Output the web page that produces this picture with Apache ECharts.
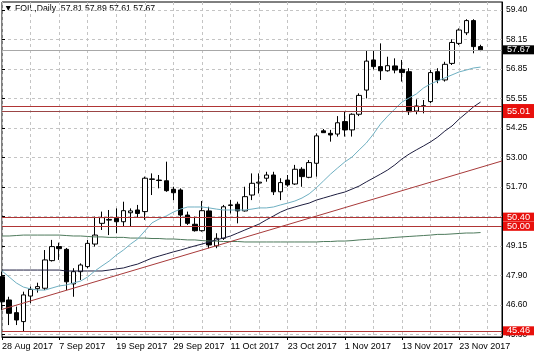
<!DOCTYPE html>
<html>
<head>
<meta charset="utf-8">
<script src="https://cdn.jsdelivr.net/npm/echarts@6.0.0/dist/echarts.min.js"></script>
<style>
html,body{margin:0;padding:0;background:#fff;}
#chart{width:536px;height:357px;}
</style>
</head>
<body>
<div id="chart"></div>
<script>
// ---- data ----
const symbolTitle = 'FOIL,Daily';
const dates = [
  '28 Aug 2017','29 Aug 2017','30 Aug 2017','31 Aug 2017','1 Sep 2017',
  '4 Sep 2017','5 Sep 2017','6 Sep 2017','7 Sep 2017','8 Sep 2017',
  '11 Sep 2017','12 Sep 2017','13 Sep 2017','14 Sep 2017','15 Sep 2017',
  '18 Sep 2017','19 Sep 2017','20 Sep 2017','21 Sep 2017','22 Sep 2017',
  '25 Sep 2017','26 Sep 2017','27 Sep 2017','28 Sep 2017','29 Sep 2017',
  '2 Oct 2017','3 Oct 2017','4 Oct 2017','5 Oct 2017','6 Oct 2017',
  '9 Oct 2017','10 Oct 2017','11 Oct 2017','12 Oct 2017','13 Oct 2017',
  '16 Oct 2017','17 Oct 2017','18 Oct 2017','19 Oct 2017','20 Oct 2017',
  '23 Oct 2017','24 Oct 2017','25 Oct 2017','26 Oct 2017','27 Oct 2017',
  '29 Oct 2017','30 Oct 2017','31 Oct 2017','1 Nov 2017','2 Nov 2017',
  '3 Nov 2017','6 Nov 2017','7 Nov 2017','8 Nov 2017','9 Nov 2017',
  '10 Nov 2017','13 Nov 2017','14 Nov 2017','15 Nov 2017','16 Nov 2017',
  '17 Nov 2017','20 Nov 2017','21 Nov 2017','22 Nov 2017','23 Nov 2017',
  '24 Nov 2017','27 Nov 2017','28 Nov 2017',
  '29 Nov 2017','30 Nov 2017','1 Dec 2017'
];
const labelEvery = 8;
const opens = [47.81,46.80,46.25,45.86,46.97,47.29,47.31,48.51,49.12,49.00,
  47.50,48.03,48.25,49.23,50.13,50.27,50.35,50.20,50.59,50.71,
  50.64,52.04,52.01,51.98,51.61,51.58,50.49,50.09,49.81,50.67,
  49.15,49.48,50.93,50.96,50.67,51.36,51.88,52.09,52.23,51.50,
  52.01,51.84,52.48,52.13,52.74,54.15,54.04,54.01,54.55,54.19,
  54.87,55.92,57.23,56.94,56.76,56.97,56.82,56.72,55.01,55.22,
  55.42,56.72,56.36,57.08,57.95,58.41,58.94,57.81];
const highs = [48.03,46.94,46.51,47.16,47.38,47.55,48.97,49.41,49.29,49.06,
  48.18,48.39,49.41,50.42,50.64,50.71,50.78,51.07,50.78,50.93,
  52.16,52.30,52.23,52.81,51.72,51.65,50.64,50.42,51.10,50.85,
  49.70,50.93,51.15,51.07,51.72,52.30,52.30,52.37,52.37,52.09,
  52.23,52.67,52.57,52.88,54.04,54.23,54.19,54.79,54.98,54.91,
  55.78,57.66,57.66,57.95,57.37,57.30,57.23,56.87,55.52,55.49,
  56.79,56.87,57.15,58.13,58.60,59.00,59.00,57.89];
const lows = [46.37,45.71,45.71,45.45,46.66,47.12,47.23,48.47,48.54,47.23,
  46.94,47.67,48.18,49.12,49.84,49.62,49.70,49.98,50.00,50.38,
  50.28,51.36,51.65,51.50,51.14,49.98,50.06,49.77,49.77,49.05,
  49.05,49.41,50.56,50.13,50.64,51.14,51.43,51.94,51.36,51.14,
  51.72,51.80,51.72,52.09,52.16,54.06,53.68,53.90,53.90,53.90,
  54.79,55.56,56.82,56.36,56.72,56.65,56.29,54.84,54.87,54.91,
  55.35,56.22,56.29,57.01,57.88,58.31,57.52,57.61];
const closes = [46.72,46.22,45.93,47.02,47.26,47.38,48.54,49.12,49.03,47.59,
  48.03,48.32,49.26,49.62,50.38,50.30,50.20,50.68,50.67,50.56,
  52.09,52.06,51.99,51.55,51.46,50.49,50.13,49.81,50.68,49.19,
  49.48,50.85,50.91,50.67,51.29,51.87,51.92,52.23,51.50,51.90,
  51.80,52.48,52.16,52.77,53.93,54.07,53.97,54.50,54.19,54.87,
  55.69,57.18,56.94,56.76,56.98,56.79,56.68,54.98,55.23,55.24,
  56.68,56.36,57.04,57.99,58.53,58.94,57.81,57.67];
const maFast = [48.06,47.80,47.54,47.36,47.28,47.23,47.23,47.32,47.41,47.45,
  47.54,47.62,47.80,48.06,48.28,48.49,48.75,48.97,49.23,49.45,
  49.80,50.15,50.32,50.45,50.62,50.75,50.84,50.84,50.84,50.80,
  50.75,50.71,50.71,50.71,50.71,50.75,50.80,50.80,50.84,50.93,
  51.01,51.10,51.23,51.41,51.67,51.97,52.27,52.54,52.80,53.01,
  53.32,53.62,54.01,54.45,54.79,55.10,55.40,55.58,55.75,56.01,
  56.19,56.32,56.45,56.58,56.71,56.79,56.88,56.92];
const maMid = [48.10,48.10,48.10,48.10,48.10,48.10,48.10,48.10,48.10,48.06,
  48.06,48.06,48.06,48.06,48.06,48.10,48.15,48.19,48.28,48.36,
  48.49,48.62,48.71,48.80,48.89,48.97,49.06,49.15,49.23,49.32,
  49.41,49.49,49.58,49.71,49.84,49.97,50.10,50.28,50.45,50.62,
  50.75,50.84,50.93,51.01,51.14,51.23,51.32,51.41,51.49,51.62,
  51.75,51.93,52.10,52.27,52.45,52.67,52.93,53.14,53.32,53.49,
  53.67,53.88,54.14,54.36,54.66,54.92,55.19,55.40];
const maSlow = [49.58,49.58,49.60,49.62,49.62,49.62,49.62,49.62,49.62,49.60,
  49.58,49.58,49.56,49.54,49.54,49.52,49.52,49.52,49.49,49.49,
  49.49,49.47,49.47,49.45,49.45,49.43,49.41,49.41,49.38,49.36,
  49.36,49.34,49.34,49.34,49.32,49.32,49.32,49.32,49.32,49.32,
  49.32,49.32,49.32,49.32,49.32,49.34,49.34,49.36,49.36,49.38,
  49.41,49.43,49.45,49.47,49.49,49.52,49.54,49.56,49.58,49.60,
  49.62,49.65,49.65,49.67,49.69,49.71,49.71,49.73];
const levels = [55.20, 55.01, 50.40, 50.00, 45.46];
const levelTags = [false, true, true, true, true];
const trendStart = [0, 46.39];
const trendEnd = [70, 52.84];
const yTickLabels = ['45.30','46.60','47.90','49.15','50.40','51.70','53.00','54.25','55.55','56.85','58.15','59.40'];

// ---- build ----
const candles = opens.map((o, i) => [o, closes[i], lows[i], highs[i]]);
const lastClose = closes[closes.length - 1];
const last = opens.length - 1;
const title = '\u25BC ' + symbolTitle + '  ' + [opens[last], highs[last], lows[last], closes[last]].map(v => v.toFixed(2)).join(' ');

const FONT = 'Liberation Sans';

const markData = levels.map((v, i) => ({
  yAxis: v,
  lineStyle: {color: i === 1 ? '#9b4545' : '#b03535', width: 1, type: 'solid'},
  label: levelTags[i] ? {
    show: true, position: 'end', distance: 1,
    formatter: v.toFixed(2), color: '#fff', backgroundColor: '#e8100c',
    fontFamily: FONT, fontSize: 9.2, padding: i === 1 ? [1, 4, 4, 4] : [0, 4, 0, 4]
  } : {show: false}
}));
markData.push({
  yAxis: lastClose,
  lineStyle: {color: '#a8a8a8', width: 1, type: 'solid'},
  label: {show: true, position: 'end', distance: 1, formatter: lastClose.toFixed(2),
    color: '#fff', backgroundColor: '#000', fontFamily: FONT, fontSize: 9.2, padding: [0, 4, 0, 4]}
});
markData.push([
  {coord: [dates[trendStart[0]], trendStart[1]], lineStyle: {color: '#a83a3a', width: 1, type: 'solid'}, label: {show: false}},
  {coord: [dates[trendEnd[0]], trendEnd[1]]}
]);

const chart = echarts.init(document.getElementById('chart'), null, {renderer: 'canvas'});
chart.setOption({
  animation: false,
  backgroundColor: '#fff',
  textStyle: {fontFamily: FONT},
  graphic: [{
    type: 'text', left: 4, top: 4,
    style: {text: title, fontFamily: FONT, fontSize: 8.7, fill: '#000'}
  }],
  grid: [
    {left: 2, right: 34, top: 2, bottom: 20, show: true, borderColor: '#000', borderWidth: 1,
     backgroundColor: 'transparent', outerBoundsMode: 'none'},
    {left: 2, right: 34, top: 10, bottom: 22.5, show: false, outerBoundsMode: 'none'}
  ],
  xAxis: [{
    type: 'category', gridIndex: 0, data: dates, boundaryGap: false,
    axisLine: {show: true, lineStyle: {color: '#000'}},
    axisTick: {show: true, interval: (i) => i % labelEvery === 0, length: 3, lineStyle: {color: '#000'}},
    axisLabel: {interval: 0, align: 'left', margin: 5, color: '#000', fontFamily: FONT, fontSize: 9,
      hideOverlap: false,
      formatter: (v, i) => (i % labelEvery === 0 ? v : '')},
    splitLine: {show: true, interval: 3, lineStyle: {color: '#c4c4c4', type: [3, 3], width: 1}}
  }, {
    type: 'value', gridIndex: 1, show: false, min: 0, max: 1
  }],
  yAxis: [{
    type: 'value', gridIndex: 0, position: 'right', min: 45.191, max: 59.748, scale: true,
    axisLine: {show: true, lineStyle: {color: '#000'}},
    axisTick: {show: false}, axisLabel: {show: false}, splitLine: {show: false}
  }, {
    type: 'value', gridIndex: 1, position: 'right', min: 0, max: 11, interval: 1,
    axisLine: {show: false},
    axisTick: {show: true, length: 3, lineStyle: {color: '#000'}},
    axisLabel: {margin: 4, color: '#000', fontFamily: FONT, fontSize: 8.5,
      formatter: v => yTickLabels[Math.round(v)] || ''},
    splitLine: {show: true, lineStyle: {color: '#c4c4c4', type: [3, 3], width: 1}}
  }],
  series: [{
    type: 'candlestick', xAxisIndex: 0, yAxisIndex: 0, data: candles, barWidth: 5,
    itemStyle: {color: '#fff', color0: '#000', borderColor: '#000', borderColor0: '#000', borderWidth: 1},
    markLine: {silent: true, symbol: ['none', 'none'], animation: false, data: markData}
  }, {
    type: 'line', xAxisIndex: 0, yAxisIndex: 0, data: maSlow, showSymbol: false,
    lineStyle: {color: '#4e7a5c', width: 1}
  }, {
    type: 'line', xAxisIndex: 0, yAxisIndex: 0, data: maMid, showSymbol: false,
    lineStyle: {color: '#1e1e40', width: 1}
  }, {
    type: 'line', xAxisIndex: 0, yAxisIndex: 0, data: maFast, showSymbol: false,
    lineStyle: {color: '#6fb0c2', width: 1}
  }]
});
</script>
</body>
</html>
